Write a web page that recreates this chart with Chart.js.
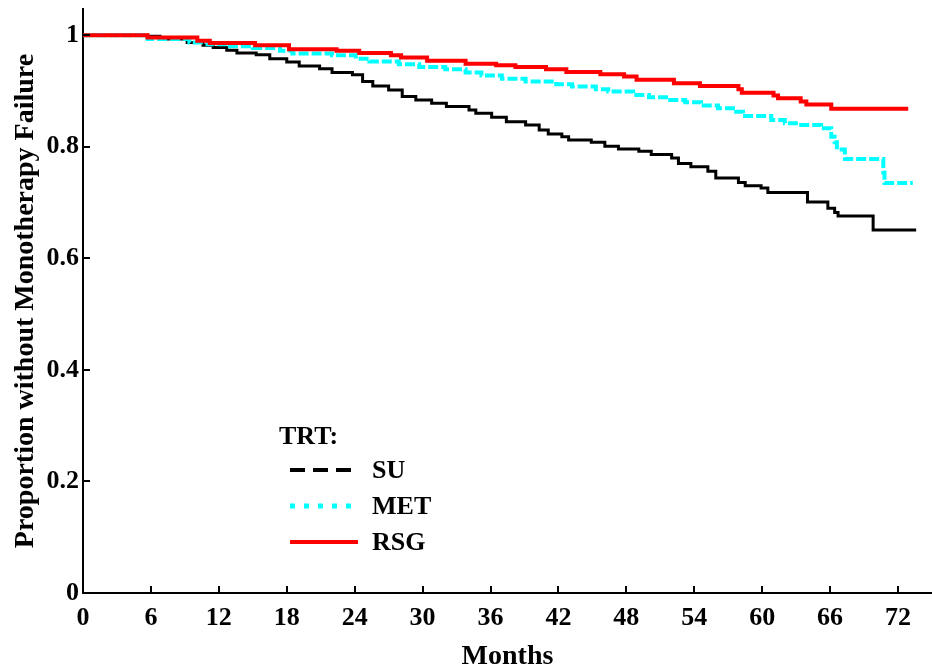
<!DOCTYPE html>
<html>
<head>
<meta charset="utf-8">
<script src="https://cdn.jsdelivr.net/npm/chart.js@4/dist/chart.umd.min.js"></script>
<style>
  html, body { margin: 0; padding: 0; background: #fff; }
  #wrap { width: 932px; height: 671px; }
</style>
</head>
<body>
<div id="wrap"><canvas id="chartKM"></canvas></div>
<script>
// tempos dos eventos (meses) e proporção sem falha
var suMonths = [0, 5.7, 6.8, 9.2, 10.6, 11.5, 12.7, 13.6, 15.3, 16.5, 18, 19.1, 20.9, 22, 23.8, 24.7, 25.6, 27, 28.2, 29.4,
    30.8, 32.1, 34.1, 34.7, 36.1, 37.4, 39.1, 40.3, 41.1, 42.3, 42.9, 44.9, 46.1, 47.3, 49.1, 50.2, 52, 52.6, 53.7, 55.2,
    55.9, 57.9, 58.5, 59.9, 60.5, 64, 65.8, 66.4, 66.7, 69.8, 73.6];
var suSurvival = [1, 0.998, 0.993, 0.987, 0.982, 0.978, 0.973, 0.968, 0.965, 0.958, 0.952, 0.945, 0.940, 0.933, 0.929, 0.917, 0.909, 0.902, 0.890, 0.884,
    0.878, 0.872, 0.866, 0.860, 0.853, 0.845, 0.839, 0.830, 0.823, 0.818, 0.812, 0.808, 0.801, 0.796, 0.792, 0.786, 0.780, 0.770, 0.764, 0.756,
    0.744, 0.736, 0.730, 0.726, 0.718, 0.701, 0.690, 0.682, 0.676, 0.651, 0.651];

var metMonths = [0, 5.7, 9.4, 11, 12.7, 15, 17.4, 18.5, 22, 24.1, 25.3, 27.9, 29.7, 32, 33.8, 35.2, 37, 39.1, 41.8, 43.2,
    45.3, 46.4, 48.6, 50, 51.7, 53.2, 54.6, 56.1, 57.7, 58.3, 60.8, 62, 63.2, 65.2, 66.1, 66.4, 66.6, 67.3, 70.7, 70.8, 73.3];
var metSurvival = [1, 0.993, 0.987, 0.984, 0.980, 0.977, 0.972, 0.967, 0.964, 0.958, 0.953, 0.948, 0.943, 0.939, 0.933, 0.928, 0.922, 0.917, 0.912, 0.908,
    0.903, 0.899, 0.893, 0.889, 0.884, 0.880, 0.874, 0.869, 0.863, 0.855, 0.848, 0.842, 0.839, 0.833, 0.818, 0.808, 0.795, 0.778, 0.754, 0.735, 0.735];

var rsgMonths = [0, 5.7, 10.1, 11.2, 15.2, 18.2, 22.4, 24.4, 27.2, 28.1, 30.4, 33.8, 36.5, 38.2, 40.9, 42.7, 45.7, 47.8, 48.9, 52.2,
    54.5, 57.9, 58.2, 61, 61.4, 63.4, 63.9, 66.1, 72.9];
var rsgSurvival = [1, 0.996, 0.990, 0.986, 0.982, 0.975, 0.972, 0.968, 0.964, 0.960, 0.954, 0.949, 0.946, 0.943, 0.939, 0.934, 0.930, 0.926, 0.920, 0.914,
    0.909, 0.903, 0.897, 0.892, 0.887, 0.881, 0.876, 0.868, 0.868];

var xTicks = [0, 6, 12, 18, 24, 30, 36, 42, 48, 54, 60, 66, 72];
var yTicks = [0, 0.2, 0.4, 0.6, 0.8, 1];

var fonte = '"Liberation Serif", "Times New Roman", Times, serif';

function pontos(tempos, valores) {
    var lista = [];
    for (var i = 0; i < tempos.length; i++) {
        lista.push({ x: tempos[i], y: valores[i] });
    }
    return lista;
}

// marcas dos ticks para dentro + legenda dentro da área do gráfico
var extras = {
    id: 'extras',
    afterDraw: function (chart) {
        var ctx = chart.ctx;
        var area = chart.chartArea;
        var sx = chart.scales.x, sy = chart.scales.y;
        ctx.save();
        ctx.strokeStyle = '#000';
        ctx.lineWidth = 2;
        xTicks.forEach(function (v) {
            var px = Math.round(sx.getPixelForValue(v));
            ctx.beginPath();
            ctx.moveTo(px, area.bottom);
            ctx.lineTo(px, area.bottom - 7);
            ctx.stroke();
        });
        yTicks.forEach(function (v) {
            var py = Math.round(sy.getPixelForValue(v));
            ctx.beginPath();
            ctx.moveTo(area.left, py);
            ctx.lineTo(area.left + 7, py);
            ctx.stroke();
        });

        // legenda
        ctx.fillStyle = '#000';
        ctx.font = 'bold 26px ' + fonte;
        ctx.textBaseline = 'middle';
        ctx.textAlign = 'left';
        ctx.fillText('TRT:', 279, 437);
        var itens = [
            { nome: 'SU', cor: '#000', dash: [15, 8], largura: 4, y: 470 },
            { nome: 'MET', cor: '#00ffff', dash: [5, 9], largura: 5, y: 506 },
            { nome: 'RSG', cor: '#ff0000', dash: [], largura: 4, y: 542 }
        ];
        itens.forEach(function (it) {
            ctx.strokeStyle = it.cor;
            ctx.lineWidth = it.largura;
            ctx.setLineDash(it.dash);
            ctx.beginPath();
            ctx.moveTo(290, it.y);
            ctx.lineTo(358, it.y);
            ctx.stroke();
            ctx.setLineDash([]);
            ctx.fillText(it.nome, 372, it.y + 1);
        });
        ctx.restore();
    }
};

var dados = {
    datasets: [
        {
            label: 'RSG',
            data: pontos(rsgMonths, rsgSurvival),
            borderColor: '#ff0000',
            borderWidth: 4,
            stepped: 'before',
            pointRadius: 0,
            order: 0
        },
        {
            label: 'MET',
            data: pontos(metMonths, metSurvival),
            borderColor: '#00ffff',
            borderWidth: 4,
            borderDash: [10, 3],
            stepped: 'before',
            pointRadius: 0,
            order: 1
        },
        {
            label: 'SU',
            data: pontos(suMonths, suSurvival),
            borderColor: '#000000',
            borderWidth: 3,
            stepped: 'before',
            pointRadius: 0,
            order: 2
        }
    ]
};

const config = {
    type: 'line',
    data: dados,
    options: {
        responsive: false,
        animation: false,
        layout: { padding: { top: 9, right: 0, left: 0, bottom: 0 } },
        plugins: {
            legend: { display: false },
            tooltip: { enabled: false }
        },
        scales: {
            x: {
                type: 'linear',
                min: 0,
                max: 75,
                afterBuildTicks: function (s) {
                    s.ticks = xTicks.map(function (v) { return { value: v }; });
                },
                afterFit: function (s) {
                    s.height = 78;
                    s.paddingLeft = 0; s.paddingRight = 0;
                },
                grid: { display: false, drawTicks: false },
                border: { display: true, color: '#000', width: 2 },
                ticks: {
                    color: '#000',
                    padding: 10,
                    maxRotation: 0,
                    autoSkip: false,
                    font: { family: fonte, size: 26, weight: 'bold' }
                },
                title: {
                    display: true,
                    text: 'Months',
                    color: '#000',
                    padding: { top: 0, bottom: 0 },
                    font: { family: fonte, size: 28, weight: 'bold', lineHeight: 1.0 }
                }
            },
            y: {
                min: 0,
                max: 1.047,
                afterBuildTicks: function (s) {
                    s.ticks = yTicks.map(function (v) { return { value: v }; });
                },
                afterFit: function (s) {
                    s.width = 83;
                    s.paddingTop = 0; s.paddingBottom = 0;
                },
                grid: { display: false, drawTicks: false },
                border: { display: true, color: '#000', width: 2 },
                ticks: {
                    color: '#000',
                    padding: 4,
                    autoSkip: false,
                    font: { family: fonte, size: 26, weight: 'bold' },
                    callback: function (v) { return String(Math.round(v * 10) / 10); }
                },
                title: {
                    display: true,
                    text: 'Proportion without Monotherapy Failure',
                    color: '#000',
                    padding: { top: 12, bottom: 0 },
                    font: { family: fonte, size: 28, weight: 'bold', lineHeight: 1.0 }
                }
            }
        }
    },
    plugins: [extras]
};

var canvas = document.getElementById('chartKM');
canvas.width = 932;
canvas.height = 671;
let myChart = new Chart(canvas, config);
</script>
</body>
</html>
